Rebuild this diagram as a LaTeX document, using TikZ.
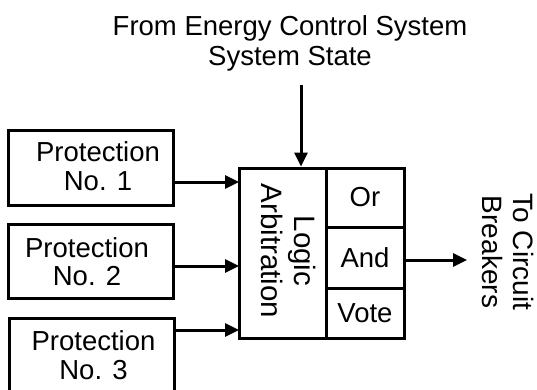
\documentclass[tikz,border=0pt]{standalone}
\usepackage{fontspec}
\setmainfont{Liberation Sans}
\usetikzlibrary{arrows.meta}
\begin{document}
\begin{tikzpicture}[x=1pt,y=-1pt,
  line width=3pt,
  box/.style={draw, line width=3pt, inner sep=0pt, minimum width=165pt, minimum height=74pt},
  cell/.style={draw, line width=3pt, inner sep=0pt, minimum width=78pt},
  lbl/.style={font=\fontsize{27.5}{28.5}\selectfont, align=center, inner sep=0pt},
  arr/.style={-{Triangle[length=14pt,width=13pt]}, line width=3pt}]
\useasboundingbox (0,0) rectangle (537,390);
% protection boxes
\node[box] (p1) at (91,168) {};
\node[box] (p2) at (91,261) {};
\node[box] (p3) at (91.5,355) {};
\node[lbl] (t1) at (98,166) {Protection\\No. 1};
\node[lbl] (t2) at (87,261.5) {Protection\\No. 2};
\node[lbl] (t3) at (93.5,355) {Protection\\No. 3};
% logic arbitration
\node[draw, inner sep=0pt, minimum width=87pt, minimum height=170pt] (la) at (282.5,253) {};
\node[lbl, rotate=-90, font=\fontsize{29.5}{33}\selectfont] (lat) at (289,251) {Logic\\Arbitration};
\node[cell, minimum height=59pt] (or) at (365,197.5) {};
\node[cell, minimum height=61pt] (and) at (365,257.5) {};
\node[cell, minimum height=50pt] (vote) at (365,313) {};
\node[lbl] at (or) {Or};
\node[lbl] at (and) {And};
\node[lbl] at (vote) {Vote};
% top text
\node[lbl, font=\fontsize{27.5}{30}\selectfont] (ecs) at (290,43) {From Energy Control System\\System State};
\coordinate (src) at (301,85);
\draw[arr] (src) -- (src |- la.north);
% inputs
\coordinate (i1) at (239,182);
\coordinate (i2) at (239,266);
\coordinate (i3) at (239,330);
\draw[arr] (i1 -| p1.east) -- (i1);
\draw[arr] (i2 -| p2.east) -- (i2);
\draw[arr] (i3 -| p3.east) -- (i3);
% output
\coordinate (out) at (467,260);
\draw[arr] (and.east |- out) -- (out);
\node[lbl, rotate=-90, font=\fontsize{28}{31}\selectfont] (cb) at (508,252) {To Circuit\\Breakers};
\end{tikzpicture}
\end{document}
